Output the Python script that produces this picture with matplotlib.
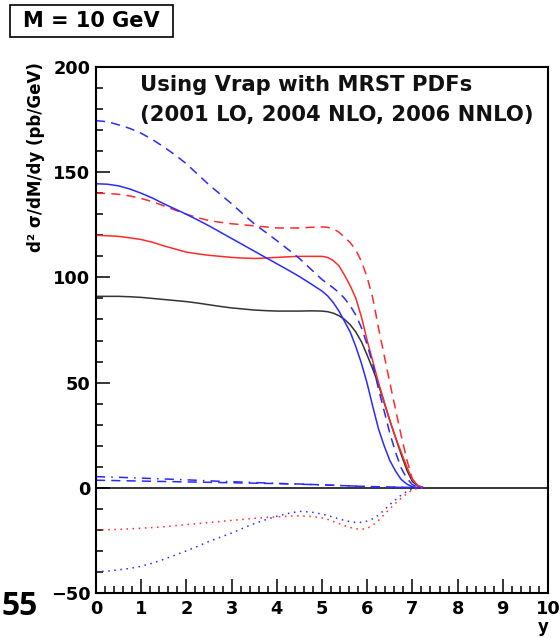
import matplotlib
matplotlib.use("Agg")
import matplotlib.pyplot as plt
from matplotlib.ticker import MultipleLocator
from matplotlib.patches import Rectangle

# ---- data ----
y_rap = [0, 0.25, 0.5, 0.75, 1, 1.25, 1.5, 1.75, 2, 2.25, 2.5, 2.75, 3, 3.25, 3.5, 3.75,
         4, 4.25, 4.5, 4.75, 5, 5.125, 5.25, 5.375, 5.5, 5.625, 5.75, 5.875, 6, 6.125,
         6.25, 6.375, 6.5, 6.625, 6.75, 6.875, 7, 7.125, 7.25]

lo_2001 = [91, 91, 91, 90.8, 90.5, 90, 89.5, 89, 88.5, 87.8, 87, 86.2, 85.5, 85, 84.5, 84.2,
           84, 84, 84, 84.1, 84, 83.7, 83, 81.8, 80, 77.5, 74, 69.3, 63, 56.3,
           49, 40.5, 32, 24, 16, 8.5, 3, 0.8, 0]
nlo_red = [120, 119.8, 119.5, 118.8, 118, 116.7, 115, 113.5, 112, 111.2, 110.5, 110, 109.5, 109.2, 109, 109.2,
           109.5, 109.8, 110, 110, 110, 109.5, 108, 105.5, 101, 96, 90, 81, 70, 60,
           50, 41, 32, 24, 17, 10, 4, 1, 0]
nnlo_red = [140, 139.9, 139.5, 138.7, 137.5, 136, 134, 132, 130, 128.4, 127, 126.2, 125.5, 125, 124.5, 124,
            123.5, 123.5, 123.5, 123.8, 124, 123.8, 123, 121.5, 119, 116.5, 113, 107.5, 100, 90,
            76, 63, 50, 37.5, 25, 13.5, 4, 1, 0]
nlo_blue = [144.5, 144.3, 143.5, 142, 140, 137.7, 135, 132.5, 130, 127.3, 124.5, 121.5, 118.5, 115.5, 112.5, 109.5,
            106.5, 103.5, 100.4, 97, 93.5, 91.2, 88, 84, 79, 74, 67, 59, 49.5, 38.5,
            28, 20, 13, 8, 4, 1.8, 0.5, 0.1, 0]
nnlo_blue = [174.5, 174, 172.5, 170.8, 168.5, 165.5, 162, 158.2, 154, 149, 144, 139.5, 135, 130.2, 125.5, 121.5,
             117.5, 113.3, 109, 104, 99, 97, 95, 92.8, 90, 86.5, 82, 76, 68, 58.5,
             47, 36.5, 26, 17, 9.5, 4.5, 1.5, 0.3, 0]
small_a = [5.3, 5.15, 5.0, 4.8, 4.6, 4.4, 4.2, 4.0, 3.8, 3.55, 3.3, 3.1, 2.9, 2.7, 2.5, 2.3,
           2.1, 1.9, 1.7, 1.55, 1.4, 1.3, 1.2, 1.1, 1.0, 0.9, 0.8, 0.7, 0.6, 0.5,
           0.4, 0.35, 0.3, 0.25, 0.2, 0.15, 0.1, 0.05, 0]
small_b = [3.6, 3.5, 3.4, 3.3, 3.2, 3.1, 3.0, 2.9, 2.8, 2.7, 2.6, 2.5, 2.4, 2.3, 2.2, 2.1,
           2.0, 1.9, 1.8, 1.6, 1.4, 1.3, 1.2, 1.1, 1.0, 0.9, 0.8, 0.7, 0.6, 0.55,
           0.5, 0.45, 0.4, 0.35, 0.3, 0.2, 0.1, 0.05, 0]
diff_red = [-20, -19.9, -19.8, -19.5, -19.2, -18.9, -18.5, -18, -17.5, -17, -16.5, -16, -15.5, -15, -14.5, -14.1,
            -13.8, -13.5, -13.3, -13.6, -14.3, -15, -16, -17, -18, -18.9, -19.5, -19.7, -19.3, -17.8,
            -15.5, -12.8, -10, -7.4, -5, -2.8, -1, -0.2, 0]
diff_blue = [-39.8, -39.6, -39, -38.3, -37.3, -35.8, -34, -32, -30, -27.8, -25.5, -23.5, -21.5, -19.2, -17, -15.2,
             -13.5, -12.2, -11.2, -11.5, -12.5, -13.2, -14, -14.8, -15.5, -16.1, -16.5, -16.4, -15.8, -14.7,
             -13, -10.6, -8, -5.7, -3.5, -1.8, -0.5, -0.1, 0]

x_ticks = [0, 1, 2, 3, 4, 5, 6, 7, 8, 9, 10]
y_ticks = [-50, 0, 50, 100, 150, 200]

FONT = "DejaVu Sans"
BLUE = "#2a2aff"
RED = "#ff2a2a"

fig = plt.figure(figsize=(5.6, 6.38), dpi=100)
W, H = 560, 638
ax = fig.add_axes([96 / W, 1 - 593 / H, (548 - 96) / W, (593 - 67) / H])

lw = 1.1
ax.axhline(0, color="black", lw=1.1, zorder=1)
ax.plot(y_rap, lo_2001, color="#333333", lw=lw)
ax.plot(y_rap, nlo_red, color=RED, lw=lw)
ax.plot(y_rap, nnlo_red, color=RED, lw=lw, linestyle=(0, (6, 4)))
ax.plot(y_rap, nlo_blue, color=BLUE, lw=lw)
ax.plot(y_rap, nnlo_blue, color=BLUE, lw=lw, linestyle=(0, (6, 4)))
ax.plot(y_rap, small_a, color=BLUE, lw=lw, linestyle=(0, (6, 4, 1, 4)))
ax.plot(y_rap, small_b, color=BLUE, lw=lw, linestyle=(0, (6, 4)))
ax.plot(y_rap, diff_red, color=RED, lw=lw, linestyle=(0, (1, 3)))
ax.plot(y_rap, diff_blue, color=BLUE, lw=lw, linestyle=(0, (1, 3)))

ax.set_xlim(0, 10)
ax.set_ylim(-50, 200)
ax.set_xticks(x_ticks)
ax.set_yticks(y_ticks)
ax.xaxis.set_minor_locator(MultipleLocator(0.2))
ax.yaxis.set_minor_locator(MultipleLocator(10))
ax.tick_params(which="both", direction="in", top=False, right=False, width=1.1, color="black")
ax.tick_params(which="major", length=10)
ax.tick_params(which="minor", length=5)
ax.tick_params(axis="x", pad=5)
ax.tick_params(axis="y", pad=4)
for lab in ax.get_xticklabels() + ax.get_yticklabels():
    lab.set_fontfamily(FONT)
    lab.set_fontweight("bold")
    lab.set_fontsize(12.8)
for sp in ax.spines.values():
    sp.set_linewidth(1.5)

# titles inside plot
fig.text(140 / W, 1 - 91 / H, "Using Vrap with MRST PDFs", fontfamily=FONT, fontweight="bold",
         fontsize=15.2, ha="left", va="baseline", color="#111111")
fig.text(140 / W, 1 - 121 / H, "(2001 LO, 2004 NLO, 2006 NNLO)", fontfamily=FONT, fontweight="bold",
         fontsize=15.2, ha="left", va="baseline", color="#111111")

# y label
fig.text(36 / W, 1 - 62 / H, "d² σ/dM/dy (pb/GeV)", rotation=90, fontfamily=FONT, fontweight="bold",
         fontsize=12, ha="center", va="top")
# x label
fig.text(543 / W, 1 - 618 / H, "y", fontfamily=FONT, fontweight="bold", fontsize=12, ha="center", va="top")

# M = 10 GeV box
fig.patches.append(Rectangle((10 / W, 1 - 37 / H), 163 / W, 32 / H, transform=fig.transFigure,
                             facecolor="white", edgecolor="black", lw=1.2))
fig.text(91 / W, 1 - 21 / H, "M = 10 GeV", fontfamily=FONT, fontweight="bold", fontsize=15,
         ha="center", va="center")

# page number
fig.text(38 / W, 1 - 615 / H, "55", fontfamily="Open Sans", fontweight="bold", fontsize=23,
         ha="right", va="baseline")

fig.savefig("out.png", dpi=100)
